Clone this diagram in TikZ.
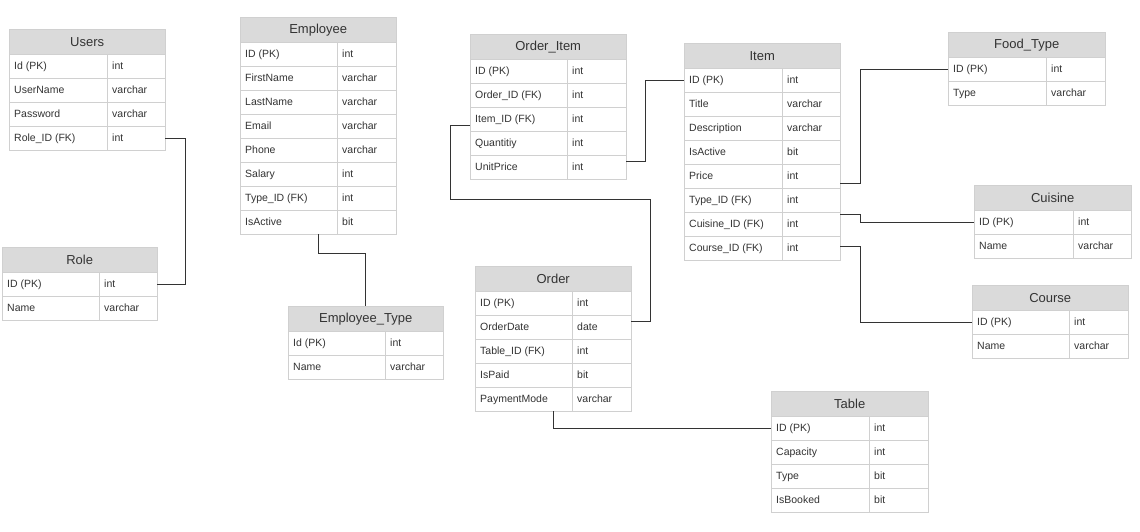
\documentclass[tikz,border=0pt]{standalone}
\usepackage{fontspec}
\setmainfont{Liberation Sans}
\usetikzlibrary{calc}

\definecolor{headgrey}{HTML}{DADADA}
\definecolor{linegrey}{HTML}{D0D0D0}
\definecolor{textgrey}{HTML}{333333}

\tikzset{
  tablehead/.style={draw=linegrey, fill=headgrey, anchor=north west, minimum height=25pt,
    inner sep=0pt, font=\fontsize{13}{15}\selectfont, text=textgrey},
  tablerow/.style={draw=linegrey, fill=white, anchor=north west, minimum height=24pt, inner sep=0pt},
  fieldtext/.style={anchor=west, inner sep=0pt, text height=8pt, text depth=2pt,
    font=\fontsize{10.5}{12}\selectfont, text=textgrey},
  relation/.style={draw=textgrey, line width=1pt}
}

% name, x, y, width, split, title, rows
\newcommand{\erdtable}[7]{%
  \node[tablehead, minimum width=#4pt] (#1) at (#2,#3) {#6};
  \foreach [count=\i] \f/\t in {#7} {
    \node[tablerow, minimum width=#4pt] (#1-\i) at (#2,{#3+25+24*(\i-1)}) {};
    \draw[linegrey] ([xshift=#5pt]#1-\i.north west) -- ([xshift=#5pt]#1-\i.south west);
    \node[fieldtext] at ([xshift=5pt]#1-\i.west) {\f};
    \node[fieldtext] at ([xshift=#5pt+5pt]#1-\i.west) {\t};
  }
}

\begin{document}
\begin{tikzpicture}[x=1pt,y=-1pt]

\fill[white] (0,0) rectangle (1140,531);
\useasboundingbox (0,0) rectangle (1140,531);

\erdtable{users}{9}{29}{156}{98}{Users}{{Id (PK)}/int, UserName/varchar, Password/varchar, {Role\_ID (FK)}/int}
\erdtable{role}{2}{247}{155}{97}{Role}{{ID (PK)}/int, Name/varchar}
\erdtable{employee}{240}{17}{156}{97}{Employee}{{ID (PK)}/int, FirstName/varchar, LastName/varchar,
  Email/varchar, Phone/varchar, Salary/int, {Type\_ID (FK)}/int, IsActive/bit}
\erdtable{emptype}{288}{306}{155}{97}{Employee\_Type}{{Id (PK)}/int, Name/varchar}
\erdtable{orderitem}{470}{34}{156}{97}{Order\_Item}{{ID (PK)}/int, {Order\_ID (FK)}/int,
  {Item\_ID (FK)}/int, Quantitiy/int, UnitPrice/int}
\erdtable{item}{684}{43}{156}{98}{Item}{{ID (PK)}/int, Title/varchar, Description/varchar, IsActive/bit,
  Price/int, {Type\_ID (FK)}/int, {Cuisine\_ID (FK)}/int, {Course\_ID (FK)}/int}
\erdtable{foodtype}{948}{32}{157}{98}{Food\_Type}{{ID (PK)}/int, Type/varchar}
\erdtable{cuisine}{974}{185}{157}{99}{Cuisine}{{ID (PK)}/int, Name/varchar}
\erdtable{course}{972}{285}{156}{97}{Course}{{ID (PK)}/int, Name/varchar}
\erdtable{order}{475}{266}{156}{97}{Order}{{ID (PK)}/int, OrderDate/date, {Table\_ID (FK)}/int,
  IsPaid/bit, PaymentMode/varchar}
\erdtable{table}{771}{391}{157}{98}{Table}{{ID (PK)}/int, Capacity/int, Type/bit, IsBooked/bit}

% relations
\draw[relation] (users-4.east) -- ++(20,0) |- (role-1.east);
\draw[relation] (employee-8.south) -- ++(0,19) -| (emptype.north);
\draw[relation] ([yshift=-6pt]orderitem-3.west) -- ++(-20,0) -- ++(0,74) -- ++(200,0)
  |- ([yshift=6pt]order-2.east);
\draw[relation] ([yshift=6pt]orderitem-5.east) -- ++(19,0) |- (item-1.west);
\draw[relation] ([yshift=-7pt]item-5.east) -- ++(20,0) |- (foodtype-1.west);
\draw[relation] ([yshift=10pt]item-7.east) -- ++(20,0) |- (cuisine-1.west);
\draw[relation] ([yshift=2pt]item-8.east) -- ++(20,0) |- (course-1.west);
\draw[relation] (order-5.south) |- (table-1.west);

\end{tikzpicture}
\end{document}
